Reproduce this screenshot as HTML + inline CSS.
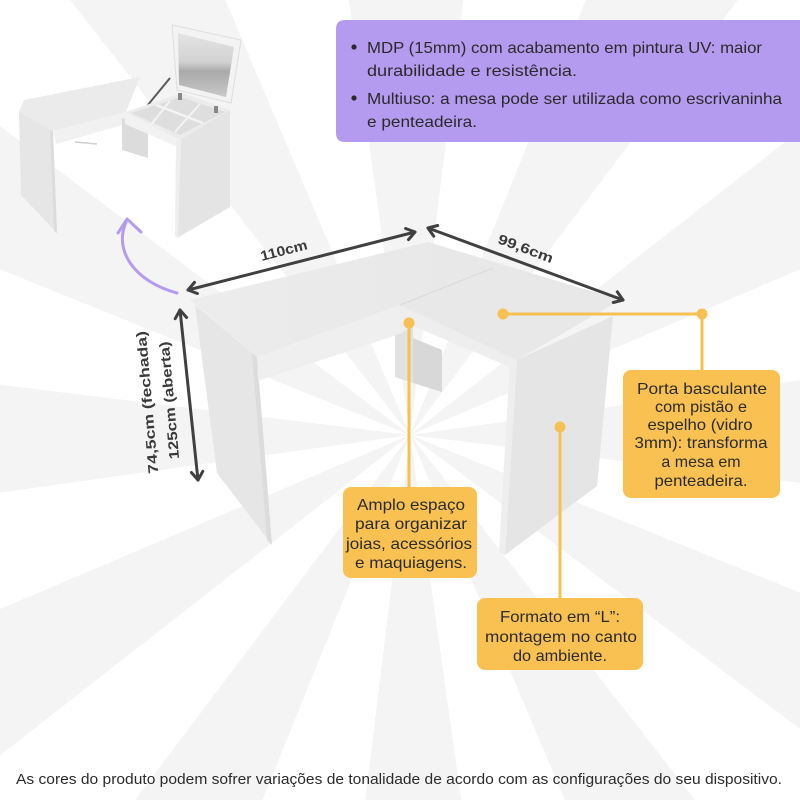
<!DOCTYPE html>
<html>
<head>
<meta charset="utf-8">
<style>
html,body{margin:0;padding:0;background:#fff;width:800px;height:800px;overflow:hidden;}
#bg{position:absolute;left:0;top:0;width:800px;height:800px;overflow:hidden;
  background:repeating-conic-gradient(from 262deg at 410px 435px,#f4f4f4 0deg 15deg,#ffffff 15deg 30deg);}
svg{display:block;position:absolute;left:0;top:0;}
text{font-family:"Liberation Sans","DejaVu Sans",sans-serif;}
</style>
</head>
<body>
<div id="bg"></div>
<svg width="800" height="800" viewBox="0 0 800 800" xmlns="http://www.w3.org/2000/svg">
  <defs>
    <linearGradient id="glass" x1="0" y1="0" x2="0" y2="1">
      <stop offset="0" stop-color="#e4e4e4"/>
      <stop offset="0.45" stop-color="#d2d2d2"/>
      <stop offset="0.6" stop-color="#a9a9a9"/>
      <stop offset="1" stop-color="#c9c9c9"/>
    </linearGradient>
    <linearGradient id="topL" x1="0" y1="0" x2="1" y2="0">
      <stop offset="0" stop-color="#ececec"/>
      <stop offset="1" stop-color="#e6e6e6"/>
    </linearGradient>
  </defs>

  <!-- ===== small product image top-left ===== -->
  <g>
    <polygon points="19,112 53,131 57,233 21,195" fill="#e6e6e6"/>
    <polygon points="50,129 53,131 57,233 54,231" fill="#dcdcdc"/>
    <polygon points="19,112 24,100 140,77 126,112 53,131" fill="#ebebeb"/>
    <polygon points="53,131 126,112 126,124 56,144" fill="#f1f1f1"/>
    <line x1="75" y1="142" x2="97" y2="144" stroke="#d0d0d0" stroke-width="1.5"/>
    <polygon points="122,118 148,128 148,158 122,150" fill="#dcdcdc"/>
    <polygon points="172,25 241,40 231,103 177,90" fill="#f3f3f3" stroke="#dedede" stroke-width="1"/>
    <polygon points="178,33 234,47 226,97 179,85" fill="url(#glass)"/>
    <line x1="147" y1="106" x2="170" y2="78" stroke="#5a5a5a" stroke-width="2"/>
    <polygon points="125,112 182,93 230,110 180,140" fill="#ececec"/>
    <polygon points="131,113 181,97 225,112 180,135" fill="#dedede"/>
    <line x1="156" y1="105" x2="203" y2="123" stroke="#f4f4f4" stroke-width="2.5"/>
    <line x1="170" y1="101" x2="150" y2="126" stroke="#f4f4f4" stroke-width="2"/>
    <line x1="200" y1="104" x2="175" y2="132" stroke="#f4f4f4" stroke-width="2"/>
    <rect x="178" y="93" width="4" height="7" fill="#888"/>
    <rect x="214" y="106" width="4" height="7" fill="#888"/>
    <polygon points="125,112 180,140 180,148 125,124" fill="#f2f2f2"/>
    <polygon points="180,140 230,110 230,207 177,238" fill="#e4e4e4"/>
    <polygon points="176,140 181,140 178,238 175,236" fill="#eeeeee"/>
  </g>

  <!-- purple curved arrow -->
  <path d="M177,293 C135,282 112,250 127,220" fill="none" stroke="#b49bf0" stroke-width="3" stroke-linecap="round"/>
  <polyline points="118,233 127,219 141,232" fill="none" stroke="#b49bf0" stroke-width="3" stroke-linecap="round" stroke-linejoin="round"/>

  <!-- purple info box -->
  <path d="M345,20 H800 V142 H345 Q336,142 336,133 V29 Q336,20 345,20 Z" fill="#b49bf0"/>
  <circle cx="354" cy="47" r="2.6" fill="#2a2a2a"/>
  <circle cx="354" cy="98" r="2.6" fill="#2a2a2a"/>
  <g fill="#2a2a2a" font-size="16">
    <text x="367" y="53" textLength="395" lengthAdjust="spacingAndGlyphs">MDP (15mm) com acabamento em pintura UV: maior</text>
    <text x="367" y="76" textLength="210" lengthAdjust="spacingAndGlyphs">durabilidade e resistência.</text>
    <text x="367" y="104" textLength="415" lengthAdjust="spacingAndGlyphs">Multiuso: a mesa pode ser utilizada como escrivaninha</text>
    <text x="367" y="127" textLength="110" lengthAdjust="spacingAndGlyphs">e penteadeira.</text>
  </g>

  <!-- ===== main desk ===== -->
  <polygon points="395,310 413,316 413,383 395,377" fill="#e1e1e1"/>
  <polygon points="413,338 442,350 442,392 413,383" fill="#d8d8d8"/>
  <polygon points="195,305 257,357 272,545 217,473" fill="#e6e6e6"/>
  <polygon points="252,353 257,357 272,545 267,540" fill="#dcdcdc"/>
  <polygon points="257,357 400,305 400,334 258,381" fill="#efefef"/>
  <polygon points="400,305 517,360 517,370 413,326 400,334" fill="#eeeeee"/>
  <polygon points="190,300 428,242 620,300 517,360 400,305 257,357" fill="url(#topL)"/>
  <polygon points="400,305 493,268 620,300 517,360" fill="#e8e8e8"/>
  <line x1="400" y1="305" x2="493" y2="268" stroke="#dadada" stroke-width="1"/>
  <polygon points="517,360 613,316 597,486 505,555" fill="#e5e5e5"/>
  <polygon points="510,360 517,360 505,555 499,552" fill="#eeeeee"/>

  <!-- dimension arrows -->
  <g stroke="#404040" stroke-width="3" fill="none" stroke-linecap="round" stroke-linejoin="round">
    <line x1="188" y1="290" x2="415" y2="232"/>
    <polyline points="405.6,228.5 415,232 408.5,239.6"/>
    <polyline points="197.4,293.5 188,290 194.5,282.4"/>
    <line x1="428" y1="228" x2="623" y2="300"/>
    <polyline points="617.3,291.8 623,300 613.3,302.5"/>
    <polyline points="433.7,236.2 428,228 437.7,225.5"/>
    <line x1="180" y1="310" x2="198" y2="480"/>
    <polyline points="202.8,471.3 198,480 191.4,472.5"/>
    <polyline points="175.2,318.7 180,310 186.6,317.5"/>
  </g>
  <g fill="#3a3a3a" font-weight="bold" font-size="14">
    <text x="0" y="0" text-anchor="middle" textLength="48" lengthAdjust="spacingAndGlyphs" transform="translate(285,255) rotate(-14.5)">110cm</text>
    <text x="0" y="0" text-anchor="middle" textLength="58" lengthAdjust="spacingAndGlyphs" transform="translate(524,253) rotate(20.5)">99,6cm</text>
    <text x="0" y="0" text-anchor="middle" textLength="143" lengthAdjust="spacingAndGlyphs" transform="translate(152,402) rotate(-95)">74,5cm (fechada)</text>
    <text x="0" y="0" text-anchor="middle" textLength="118" lengthAdjust="spacingAndGlyphs" transform="translate(174,400) rotate(-95)">125cm (aberta)</text>
  </g>

  <!-- callout connectors -->
  <g stroke="#f7c052" stroke-width="3" fill="none">
    <line x1="409" y1="323" x2="409" y2="488"/>
    <line x1="560" y1="427" x2="560" y2="599"/>
    <polyline points="503,314 702,314 702,371"/>
  </g>
  <g fill="#f7c052">
    <circle cx="409" cy="323" r="5.5"/>
    <circle cx="560" cy="427" r="5.5"/>
    <circle cx="503" cy="314" r="5.5"/>
    <circle cx="702" cy="314" r="5.5"/>
  </g>

  <!-- callout boxes -->
  <rect x="343" y="487" width="134" height="91" rx="8" fill="#f8c152"/>
  <rect x="477" y="598" width="166" height="72" rx="8" fill="#f8c152"/>
  <rect x="623" y="370" width="157" height="128" rx="8" fill="#f8c152"/>

  <g fill="#2b2b2b" font-size="16" text-anchor="middle">
    <text x="411" y="510" textLength="108" lengthAdjust="spacingAndGlyphs">Amplo espaço</text>
    <text x="411" y="529" textLength="112" lengthAdjust="spacingAndGlyphs">para organizar</text>
    <text x="409" y="549" textLength="126" lengthAdjust="spacingAndGlyphs">joias, acessórios</text>
    <text x="411" y="568" textLength="112" lengthAdjust="spacingAndGlyphs">e maquiagens.</text>

    <text x="560" y="622" textLength="120" lengthAdjust="spacingAndGlyphs">Formato em “L”:</text>
    <text x="561" y="642" textLength="152" lengthAdjust="spacingAndGlyphs">montagem no canto</text>
    <text x="560" y="661" textLength="94" lengthAdjust="spacingAndGlyphs">do ambiente.</text>

    <text x="702" y="394" textLength="130" lengthAdjust="spacingAndGlyphs">Porta basculante</text>
    <text x="701" y="412" textLength="92" lengthAdjust="spacingAndGlyphs">com pistão e</text>
    <text x="700" y="430" textLength="105" lengthAdjust="spacingAndGlyphs">espelho (vidro</text>
    <text x="701" y="448" textLength="133" lengthAdjust="spacingAndGlyphs">3mm): transforma</text>
    <text x="701" y="467">a mesa em</text>
    <text x="701" y="486" textLength="93" lengthAdjust="spacingAndGlyphs">penteadeira.</text>
  </g>

  <!-- footer note -->
  <text x="16" y="784" font-size="15" fill="#2b2b2b" textLength="766" lengthAdjust="spacingAndGlyphs">As cores do produto podem sofrer variações de tonalidade de acordo com as configurações do seu dispositivo.</text>
</svg>
</body>
</html>
